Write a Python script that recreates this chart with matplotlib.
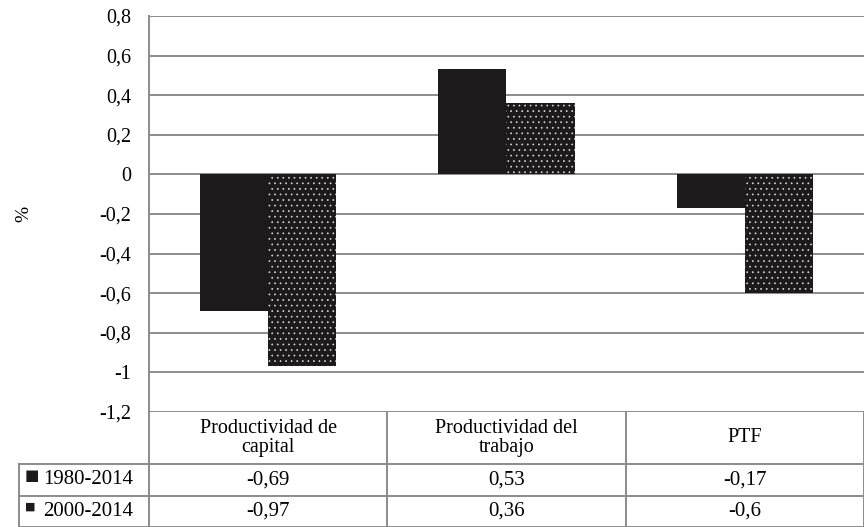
import matplotlib.pyplot as plt
import numpy as np

plt.rcParams['font.family'] = ['Liberation Serif', 'DejaVu Serif']
plt.rcParams['hatch.linewidth'] = 0.5

categories = ['Productividad de\ncapital', 'Productividad del\ntrabajo', 'PTF']
series_names = ['1980-2014', '2000-2014']
v1980 = [-0.69, 0.53, -0.17]
v2000 = [-0.97, 0.36, -0.6]
value_labels = [['-0,69', '0,53', '-0,17'], ['-0,97', '0,36', '-0,6']]
yticks = [0.8, 0.6, 0.4, 0.2, 0, -0.2, -0.4, -0.6, -0.8, -1, -1.2]

grid_col = '#8c8c8c'
fig = plt.figure(figsize=(8.64, 5.27), dpi=100)
ax = fig.add_axes([149/864, 1 - 412/527, 1 - 149/864, (412 - 16)/527])

x = np.arange(len(categories))
w = 0.286
ax.bar(x - w/2, v1980, w, color='#1c1a1a', linewidth=0, zorder=3)
ax.bar(x + w/2, v2000, w, color='#1c1a1a', edgecolor='#d8d8d8', hatch='...',
       linewidth=0, zorder=3)

ax.set_xlim(-0.5, 2.5)
ax.set_ylim(-1.2, 0.8)
ax.set_yticks(yticks)
ax.set_yticklabels([('%g' % t).replace('.', ',') for t in yticks])
ax.set_xticks([])
ax.tick_params(axis='y', length=0, pad=13, labelsize=14.5)
for t in yticks:
    ax.axhline(t, color=grid_col, lw=1.4, zorder=1)
for s in ['top', 'right', 'bottom']:
    ax.spines[s].set_visible(False)
ax.spines['left'].set_color(grid_col)
ax.spines['left'].set_linewidth(1.4)
ax.set_ylabel('%', fontsize=14, labelpad=48)

# data table under the chart
tr = ax.get_xaxis_transform()
def yax(py):
    return (412 - py) / 396
xl = -0.5 - (149 - 19) / 715 * 3
y_head = yax(464)
y_mid = yax(496)
y_bot = yax(527)
kw = dict(color=grid_col, lw=1.4, clip_on=False, transform=tr)
for xb in [-0.5, 0.5, 1.5, 2.5]:
    ax.plot([xb, xb], [0, y_bot], **kw)
ax.plot([xl, xl], [y_head, y_bot], **kw)
for yb in [y_head, y_mid, y_bot]:
    ax.plot([xl, 2.5], [yb, yb], **kw)

for i, c in enumerate(categories):
    ax.text(x[i], y_head / 2, c, transform=tr, ha='center', va='center',
            fontsize=14.5, linespacing=0.95)
row_y = [(y_head + y_mid) / 2, (y_mid + y_bot) / 2]
markers = ['■', '■']
msize = [11, 8]
for r in range(2):
    ax.text(xl + 0.025, row_y[r] + 0.012, markers[r], transform=tr, ha='left',
            va='center', fontsize=msize[r], color='#1c1a1a', family=['DejaVu Sans'])
    ax.text(xl + 0.1, row_y[r], series_names[r], transform=tr, ha='left',
            va='center', fontsize=15)
    for i in range(3):
        ax.text(x[i], row_y[r], value_labels[r][i], transform=tr, ha='center',
                va='center', fontsize=15)

fig.savefig('out.png', dpi=100)
